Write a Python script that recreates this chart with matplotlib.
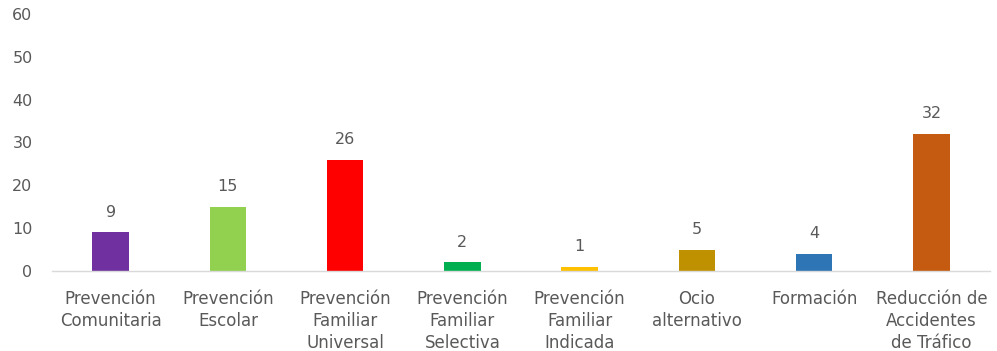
import matplotlib
matplotlib.use("Agg")
import matplotlib.pyplot as plt

categories = ["Prevención\nComunitaria", "Prevención\nEscolar", "Prevención\nFamiliar\nUniversal",
              "Prevención\nFamiliar\nSelectiva", "Prevención\nFamiliar\nIndicada", "Ocio\nalternativo",
              "Formación", "Reducción de\nAccidentes\nde Tráfico"]
values = [9, 15, 26, 2, 1, 5, 4, 32]
colors = ["#7030A0", "#92D050", "#FF0000", "#00B050", "#FFC000", "#BF9000", "#2E75B6", "#C55A11"]
yticks = [0, 10, 20, 30, 40, 50, 60]

plt.rcParams['font.family'] = ['DejaVu Sans']
txt = "#595959"

fig = plt.figure(figsize=(9.97, 3.51), dpi=100)
ax = fig.add_axes([52/997, 80/351, 938/997, (271-14)/351])
x = list(range(len(categories)))
bars = ax.bar(x, values, width=0.31, color=colors)
for xi, v in zip(x, values):
    ax.annotate(str(v), (xi, v), xytext=(0, 9), textcoords="offset points",
                ha="center", va="bottom", fontsize=11.5, color=txt)
ax.set_xlim(-0.5, len(categories) - 0.5)
ax.set_ylim(0, 60)
ax.set_yticks(yticks)
ax.set_yticklabels([str(t) for t in yticks], fontsize=11.5, color=txt)
ax.set_xticks(x)
ax.set_xticklabels(categories, fontsize=12, color=txt, linespacing=1.26)
ax.tick_params(axis="both", length=0)
ax.tick_params(axis="y", pad=14)
ax.tick_params(axis="x", pad=14)
for s in ["top", "right", "left"]:
    ax.spines[s].set_visible(False)
ax.spines["bottom"].set_color("#D9D9D9")
ax.spines["bottom"].set_linewidth(1)
fig.savefig("out.png", dpi=100)
